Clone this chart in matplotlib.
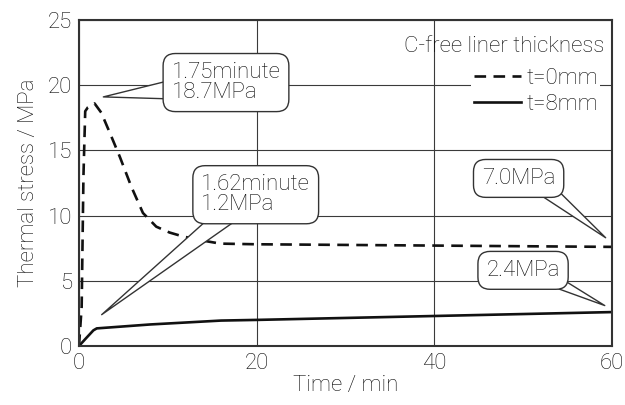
import matplotlib
matplotlib.use("Agg")
import matplotlib.pyplot as plt

# curve data
t_free0 = [0, 0.3, 0.5, 0.7, 1.0, 1.75, 2.5, 3.5, 4.6, 5.9, 7.2, 8.7, 10.2, 11.7, 13.8, 15.9, 20, 30, 40, 50, 60]
s_free0 = [0, 3.0, 13.0, 18.0, 18.3, 18.6, 17.9, 16.3, 14.5, 12.2, 10.2, 9.15, 8.7, 8.4, 8.1, 7.85, 7.8, 7.75, 7.7, 7.65, 7.6]
t_free8 = [0, 0.8, 1.62, 2.0, 8, 16, 20, 30, 40, 50, 60]
s_free8 = [0, 0.6, 1.2, 1.35, 1.65, 1.95, 2.0, 2.15, 2.3, 2.45, 2.6]

x_ticks = [0, 20, 40, 60]
y_ticks = [0, 5, 10, 15, 20, 25]

plt.rcParams['font.family'] = ['Roboto', 'DejaVu Sans']
plt.rcParams['font.weight'] = 'light'
plt.rcParams['axes.labelweight'] = 'light'
FS = 16
TXT = '#0a0a0a'

fig = plt.figure(figsize=(6.25, 4.05), dpi=100)
ax = fig.add_axes([0.1264, 0.1457, 0.8526, 0.805])

ax.plot(t_free0, s_free0, color='#111111', lw=1.9, ls=(0, (4.4, 2.8)), label='t=0mm')
ax.plot(t_free8, s_free8, color='#111111', lw=1.9, label='t=8mm')

ax.set_xlim(0, 60)
ax.set_ylim(0, 25)
ax.set_xticks(x_ticks)
ax.set_yticks(y_ticks)
ax.tick_params(length=0, labelsize=FS, pad=5, colors=TXT)
ax.grid(True, color='#3a3a3a', lw=0.8)
for sp in ax.spines.values():
    sp.set_linewidth(1.5)
    sp.set_color('#333333')

ax.set_xlabel('Time / min', fontsize=FS, color=TXT, labelpad=1)
ax.set_ylabel('Thermal stress / MPa', fontsize=FS, color=TXT, labelpad=6)

# legend title sits over the grid, the entries get a white patch
ax.text(0.986, 22.57, 'C-free liner thickness', transform=ax.get_yaxis_transform(),
        ha='right', va='baseline', fontsize=FS, color=TXT)
leg = ax.legend(loc='upper right', bbox_to_anchor=(0.978, 0.86), fontsize=FS,
                frameon=True, framealpha=1, edgecolor='none',
                handlelength=2.15, handletextpad=0.22, borderpad=0.1,
                labelspacing=0.22, borderaxespad=0)
leg.get_frame().set_boxstyle('square', pad=0)
for txt in leg.get_texts():
    txt.set_color(TXT)


def callout(label, tip, center, rel, width):
    box = dict(boxstyle='round,pad=0.38,rounding_size=0.55', fc='white', ec='#333333', lw=1.0)
    ax.annotate(label, xy=tip, xytext=center, fontsize=FS, color=TXT,
                linespacing=0.95, bbox=box, ha='center', va='center',
                multialignment='left', annotation_clip=False,
                arrowprops=dict(arrowstyle='wedge,tail_width=%.2f,shrink_factor=0.5' % width,
                                fc='white', ec='#333333', lw=1.0, relpos=rel,
                                patchA=None, shrinkA=0, shrinkB=0))


callout('1.75minute\n18.7MPa', (2.74, 19.1), (16.55, 20.2), (0.04, 0.34), 0.9)
callout('1.62minute\n1.2MPa', (2.55, 2.4), (19.9, 11.6), (0.28, 0.1), 0.9)
callout('7.0MPa', (59.3, 8.3), (49.5, 12.85), (0.81, 0.15), 0.75)
callout('2.4MPa', (59.2, 3.1), (50.0, 5.8), (0.83, 0.15), 0.6)

fig.savefig('out.png', dpi=100, facecolor='white')
